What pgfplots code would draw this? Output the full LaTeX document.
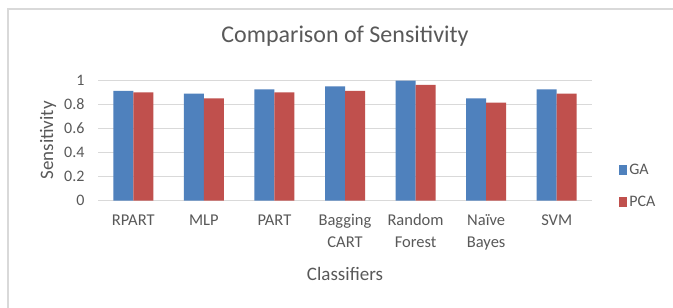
\documentclass[border=0pt]{standalone}
\usepackage{pgfplots}
\pgfplotsset{compat=1.18}
\usepackage{fontspec}
\setmainfont{Carlito}
\definecolor{gablue}{HTML}{4F81BD}
\definecolor{pcared}{HTML}{C0504D}
\definecolor{gridc}{HTML}{D9D9D9}
\definecolor{txt}{HTML}{595959}
\begin{document}
\begin{tikzpicture}[x=1bp,y=1bp]
\useasboundingbox (0,0) rectangle (673,307);
\clip (0,0) rectangle (673,307);
\fill[white] (0,0) rectangle (673,307);
\draw[gridc, line width=1.2bp] (8,-20) rectangle (700,298);
\begin{axis}[
  at={(98bp,106.3bp)}, anchor=south west,
  scale only axis, width=494bp, height=120.7bp,
  ymin=0, ymax=1, xmin=-0.5, xmax=6.5,
  ytick={0,0.2,0.4,0.6,0.8,1},
  xtick=data,
  xticklabels={RPART,MLP,PART,{Bagging\\CART},{Random\\Forest},{Naïve\\Bayes},SVM},
  /pgf/number format/assume math mode=true,
  axis line style={draw=none},
  major tick style={draw=none},
  ymajorgrids, grid style={gridc, line width=1bp},
  ybar=0pt, bar width=20bp,
  xticklabel style={align=center, font=\fontsize{16.5bp}{22bp}\selectfont, text=txt, yshift=-6bp},
  yticklabel style={font=\fontsize{16bp}{19bp}\selectfont, text=txt, xshift=-10bp},
  ylabel={Sensitivity},
  ylabel style={at={(axis description cs:-0.101,0.5)}, anchor=center, font=\fontsize{19bp}{22bp}\selectfont, text=txt},
  xlabel={Classifiers},
  xlabel style={at={(axis description cs:0.5,-0.66)}, anchor=base, font=\fontsize{19bp}{22bp}\selectfont, text=txt},
  title={Comparison of Sensitivity},
  title style={at={(axis description cs:0.5,1.265)}, anchor=base, font=\fontsize{24bp}{28bp}\selectfont, text=txt},
  legend style={at={(axis description cs:1.055,0.32)}, anchor=north west, draw=none, fill=none,
    font=\fontsize{16bp}{19bp}\selectfont, text=txt, row sep=16bp, inner sep=0pt},
  legend cell align=left,
  legend image code/.code={\fill[#1] (0bp,-5bp) rectangle (8bp,5bp);},
]
\addplot[fill=gablue, draw=none] coordinates {(0,0.909) (1,0.887) (2,0.923) (3,0.948) (4,0.994) (5,0.848) (6,0.923)};
\addplot[fill=pcared, draw=none] coordinates {(0,0.898) (1,0.848) (2,0.898) (3,0.909) (4,0.959) (5,0.812) (6,0.887)};
\legend{GA,PCA}
\end{axis}
\end{tikzpicture}
\end{document}
